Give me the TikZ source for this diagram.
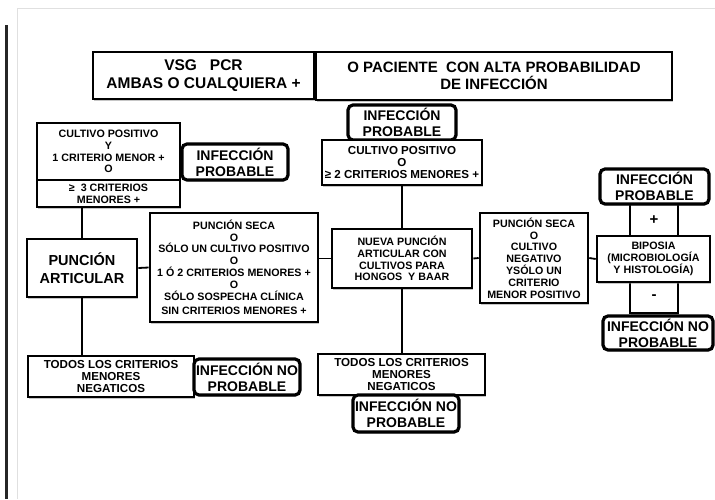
\documentclass[tikz,border=0pt]{standalone}
\usepackage{fontspec}
\setmainfont{Liberation Sans}
\usetikzlibrary{shadows}

\tikzset{
  box/.style = {draw, fill=white, line width=2.6pt, align=center, inner sep=0pt,
                drop shadow={shadow xshift=1.2pt, shadow yshift=-1.5pt, opacity=0.45}},
  infbox/.style = {box, rounded corners=5pt, line width=3.2pt,
                   font=\bfseries\fontsize{14}{16}\selectfont},
  small/.style = {font=\bfseries\fontsize{10.7}{11.8}\selectfont},
  wide/.style = {font=\bfseries\fontsize{11.6}{12}\selectfont},
  big/.style = {font=\bfseries\fontsize{15}{17.5}\selectfont},
  link/.style = {line width=1.8pt}
}

\begin{document}
\begin{tikzpicture}[x=1pt, y=-1pt]
  \useasboundingbox (0,0) rectangle (715,499);
  % page frame
  \draw[black!12, line width=0.8pt] (17,499) -- (17,8) -- (715,8);
  \fill[black!85] (5,25) rectangle (7.5,499);

  % header
  \node[box, big, font=\bfseries\fontsize{15.5}{17.5}\selectfont, minimum width=221, minimum height=47] (vsg) at (203.5,75.5)
    {VSG\ \ \ PCR\\AMBAS O CUALQUIERA +};
  \node[box, big, minimum width=356, minimum height=48] (alta) at (494,76)
    {O PACIENTE\ \ CON ALTA PROBABILIDAD\\DE INFECCIÓN};

  % left column
  \node[box, small, minimum width=143, minimum height=57] (cult1) at (108.5,151.5)
    {CULTIVO\ POSITIVO\\Y\\1 CRITERIO MENOR +\\O};
  \node[box, small, minimum width=143, minimum height=27] (tres) at (108.5,193.5)
    {≥\ \ 3 CRITERIOS\\MENORES +};
  \node[infbox, minimum width=106, minimum height=36] (probA) at (235,162)
    {INFECCIÓN\\PROBABLE};
  \node[box, big, font=\bfseries\fontsize{14.5}{17.5}\selectfont, minimum width=110, minimum height=58] (punc) at (82,268)
    {PUNCIÓN\\ARTICULAR};
  \node[box, small, minimum width=168, minimum height=109] (secaA) at (234,267.5)
    {PUNCIÓN SECA\\O\\SÓLO UN CULTIVO POSITIVO\\O\\1 Ó 2 CRITERIOS MENORES +\\O\\SÓLO SOSPECHA CLÍNICA\\[3pt]SIN CRITERIOS MENORES +};
  \node[box, wide, minimum width=166, minimum height=41] (todosA) at (111,376.5)
    {TODOS LOS CRITERIOS\\MENORES\\NEGATICOS};
  \node[infbox, minimum width=106, minimum height=36] (noA) at (247,377)
    {INFECCIÓN NO\\PROBABLE};

  % middle column
  \node[infbox, minimum width=108, minimum height=35] (probB) at (402,122.5)
    {INFECCIÓN\\PROBABLE};
  \node[box, wide, minimum width=160, minimum height=45] (cult2) at (402,162.5)
    {CULTIVO POSITIVO\\O\\≥ 2 CRITERIOS MENORES +};
  \node[box, small, minimum width=140, minimum height=59] (nueva) at (402,258.5)
    {NUEVA PUNCIÓN\\ARTICULAR CON\\CULTIVOS PARA\\HONGOS\ \ Y BAAR};
  \node[box, wide, minimum width=167, minimum height=41] (todosB) at (401.5,374.5)
    {TODOS LOS CRITERIOS\\MENORES\\NEGATICOS};
  \node[infbox, minimum width=106, minimum height=37] (noB) at (406,413.5)
    {INFECCIÓN NO\\PROBABLE};

  % right column
  \node[box, small, minimum width=108, minimum height=90] (secaB) at (534,258)
    {PUNCIÓN SECA\\O\\CULTIVO\\NEGATIVO\\YSÓLO UN\\CRITERIO\\MENOR POSITIVO};
  \node[box, big, minimum width=48, minimum height=32] (plus) at (654,220) {+};
  \node[box, big, minimum width=48, minimum height=31] (minus) at (654,297.5) {-};
  \node[box, small, minimum width=113, minimum height=46] (bio) at (653.5,259)
    {BIPOSIA\\(MICROBIOLOGÍA\\Y HISTOLOGÍA)};
  \node[infbox, minimum width=109, minimum height=35] (probC) at (654.5,186.5)
    {INFECCIÓN\\PROBABLE};
  \node[infbox, minimum width=110, minimum height=34] (noC) at (658,333)
    {INFECCIÓN NO\\PROBABLE};

  % connectors
  \draw[link] (tres.south -| punc.north) -- (punc.north);
  \draw[link] (punc.south) -- (punc.south |- todosA.north);
  \draw[link] (punc.east) -- (secaA.west);
  \draw[link] (nueva.west -| secaA.east) -- (nueva.west);
  \draw[link] (cult2.south) -- (nueva.north);
  \draw[link] (nueva.south) -- (nueva.south |- todosB.north);
  \draw[link] (nueva.east) -- (secaB.west);
  \draw[link] (secaB.east) -- (bio.west);
\end{tikzpicture}
\end{document}
